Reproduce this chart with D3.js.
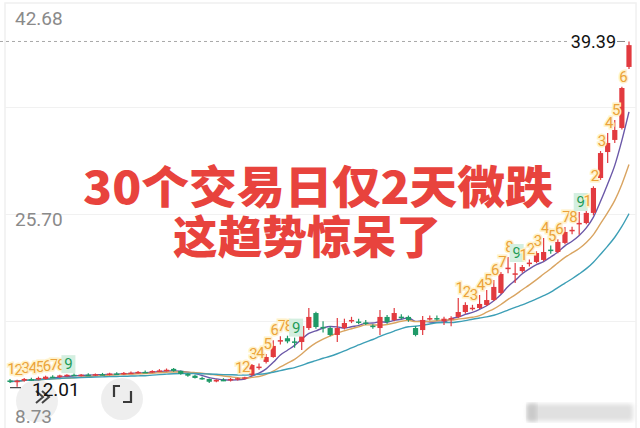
<!DOCTYPE html>
<html><head><meta charset="utf-8">
<script src="https://cdn.jsdelivr.net/npm/d3@7"></script>
<style>html,body{margin:0;padding:0;background:#fff;overflow:hidden}svg{display:block}</style>
</head><body>
<svg id="c" width="640" height="428"></svg>
<script>
// ---- data ----
const opens=[12.50,12.40,12.48,12.60,12.58,12.62,12.80,12.78,12.88,12.95,12.90,12.96,12.92,13.00,12.98,13.05,13.02,13.10,13.12,13.18,13.15,13.25,13.30,13.42,13.26,13.02,12.88,12.70,12.62,12.42,12.55,12.50,12.60,12.66,
12.94,13.55,13.97,14.36,15.65,15.85,15.60,15.55,16.66,17.85,16.75,16.66,16.11,16.66,17.25,17.18,17.10,16.85,16.66,17.54,17.30,17.56,17.54,16.66,16.50,17.40,17.45,17.20,17.35,
17.54,17.93,18.22,18.25,18.49,18.88,19.44,21.40,20.95,21.18,21.80,21.90,22.06,22.88,22.69,23.41,24.40,24.95,24.99,25.79,28.56,30.62,31.58,32.53,37.37];
const highs=[12.62,12.55,12.70,12.72,12.80,12.88,12.92,12.95,13.00,13.05,13.02,13.08,13.05,13.10,13.12,13.15,13.18,13.22,13.25,13.30,13.32,13.40,13.45,13.48,13.30,13.08,12.95,12.80,12.66,12.60,12.68,12.70,12.72,12.80,
13.80,13.85,14.60,15.70,16.00,16.05,15.90,16.95,18.25,17.95,17.20,16.80,17.46,17.40,17.55,17.40,17.30,16.95,18.09,17.70,18.25,17.75,17.65,16.80,17.62,17.65,17.65,17.55,17.60,
19.04,18.70,18.50,19.28,19.68,20.47,21.10,22.29,21.82,21.65,22.10,22.75,23.80,23.20,23.70,24.67,24.70,25.86,25.95,27.90,30.70,32.13,33.16,35.80,39.39];
const lows=[12.30,12.01,12.40,12.50,12.52,12.55,12.70,12.72,12.80,12.85,12.82,12.88,12.85,12.92,12.90,12.98,12.95,13.02,13.05,13.10,13.10,13.18,13.22,13.20,12.95,12.80,12.65,12.55,12.30,12.35,12.45,12.42,12.50,12.58,
12.85,13.35,13.85,14.30,15.35,15.45,15.10,14.92,16.50,16.60,16.30,16.00,15.55,16.55,17.05,16.95,16.90,16.60,16.11,17.00,17.20,17.35,17.15,16.00,16.11,17.25,17.25,16.90,16.80,
17.45,17.80,18.05,18.15,18.40,18.80,19.35,21.00,20.23,21.05,21.55,21.80,21.95,22.55,22.60,23.30,24.10,24.05,24.90,25.60,28.40,29.75,31.34,32.40,37.20];
const closes=[12.42,12.48,12.62,12.58,12.70,12.80,12.78,12.90,12.95,12.90,12.96,12.92,13.00,12.98,13.05,13.02,13.10,13.12,13.18,13.15,13.25,13.30,13.35,13.26,13.02,12.88,12.70,12.62,12.40,12.55,12.50,12.62,12.68,12.75,
13.73,13.60,14.36,15.24,15.70,15.60,15.50,16.82,17.54,16.74,16.70,16.11,16.66,17.06,17.30,17.14,17.06,16.74,17.54,17.14,17.85,17.52,17.30,16.11,17.30,17.45,17.42,17.40,17.45,
17.93,18.49,18.27,18.57,18.88,19.92,20.95,21.45,21.00,21.50,21.85,22.61,22.69,22.82,23.49,24.28,24.45,25.00,25.79,27.77,30.54,31.34,32.37,35.70,39.10];
const tdCounts=[1,2,3,4,5,6,7,8,9,
0,0,0,0,0,0,0,0,0,0,0,0,0,0,0,0,0,0,0,0,0,0,0,
1,2,3,4,5,6,7,8,9,
0,0,0,0,0,0,0,0,0,0,0,0,0,0,0,0,0,0,0,0,0,0,
1,2,3,4,5,6,7,8,9,
1,2,3,4,5,6,7,8,9,
1,2,3,4,5,6,0];
const axisTicks=[42.68,25.70,8.73];
const maxLabel=39.39, minLabel=12.01;
const maPeriods=[5,10,20];
const maColors=["#6b58a8","#d9a461","#3d9fb6"];
const titleLines=["30个交易日仅2天微跌","这趋势惊呆了"];

// ---- drawing ----
const W=640,H=428;
const svg=d3.select("#c");
const n=closes.length;
const x=d3.scalePoint().domain(d3.range(n)).range([10,629]);
const y=d3.scaleLinear().domain([8.73,42.68]).range([H,0]);

const defs=svg.append("defs");
defs.append("filter").attr("id","blur").append("feGaussianBlur").attr("stdDeviation",2);

// frame
svg.append("rect").attr("x",5).attr("y",3).attr("width",631).attr("height",440)
  .attr("fill","none").attr("stroke","#f0f0f0").attr("stroke-width",1.5);

// grid
const q=d3.range(1,4).map(k=>8.73+k*(42.68-8.73)/4);
svg.append("g").selectAll("line").data(q).join("line")
  .attr("x1",5).attr("x2",636).attr("y1",d=>Math.round(y(d))+0.5).attr("y2",d=>Math.round(y(d))+0.5)
  .attr("stroke","#f1f1f1").attr("stroke-width",1.2);

// bottom buttons (behind labels)
svg.append("circle").attr("cx",37).attr("cy",401).attr("r",21).attr("fill","#ececec").attr("opacity",0.85);
svg.append("circle").attr("cx",122).attr("cy",399).attr("r",21).attr("fill","#ececec").attr("opacity",0.9);
svg.append("path").attr("d","M114,397V386H120M131,391V402H123").attr("fill","none").attr("stroke","#3a3a3a").attr("stroke-width",2.2);

// axis labels
const ax=svg.append("g").attr("transform","translate(15,0)")
  .call(d3.axisRight(y).tickValues(axisTicks).tickSize(0).tickFormat(d3.format(".2f")));
ax.select(".domain").remove();
ax.selectAll("text").attr("x",0).attr("text-anchor","start")
  .attr("font-family","Roboto, 'Noto Sans', sans-serif").attr("font-size",19).attr("fill","#8a8a8a")
  .attr("dy",(d,i)=>[ "1.3em","0.62em","-0.3em"][i]);

// max dashed line
svg.append("line").attr("x1",0).attr("x2",568).attr("y1",y(maxLabel)).attr("y2",y(maxLabel))
  .attr("stroke","#a8a8a8").attr("stroke-dasharray","3,3").attr("stroke-width",1);
svg.append("text").attr("x",616).attr("y",y(maxLabel)).attr("dy","0.36em").attr("text-anchor","end")
  .attr("font-family","Roboto, sans-serif").attr("font-size",18).attr("fill","#111").text(maxLabel.toFixed(2));
svg.append("line").attr("x1",617).attr("x2",625).attr("y1",y(maxLabel)).attr("y2",y(maxLabel))
  .attr("stroke","#888").attr("stroke-width",1);

// watermark blur
svg.append("rect").attr("x",527).attr("y",404).attr("width",106).attr("height",17).attr("rx",3)
  .attr("fill","#e0e0e0").attr("filter","url(#blur)");
svg.append("rect").attr("x",527).attr("y",404).attr("width",10).attr("height",17)
  .attr("fill","#cacaca").attr("filter","url(#blur)");

// moving averages
maPeriods.forEach((p,k)=>{
  const ma=closes.map((c,i)=>d3.mean(closes.slice(Math.max(0,i-p+1),i+1)));
  svg.append("path").datum(ma)
    .attr("d",d3.line().x((d,i)=>x(i)).y(d=>y(d)).curve(d3.curveMonotoneX))
    .attr("fill","none").attr("stroke",maColors[k]).attr("stroke-width",1.4);
});

// candles
const data=closes.map((c,i)=>({i,o:opens[i],h:highs[i],l:lows[i],c}));
const cg=svg.append("g").selectAll("g").data(data).join("g");
const col=d=>d.c>=d.o?"#e23a3f":"#1f9a68";
cg.append("line").attr("x1",d=>x(d.i)).attr("x2",d=>x(d.i))
  .attr("y1",d=>y(d.h)).attr("y2",d=>y(d.l)).attr("stroke",col).attr("stroke-width",1.2);
cg.append("rect").attr("x",d=>x(d.i)-2.6).attr("width",5.2)
  .attr("y",d=>y(Math.max(d.o,d.c))).attr("height",d=>Math.max(1.5,Math.abs(y(d.o)-y(d.c))))
  .attr("fill",col);

// TD sequence labels
const tdData=data.filter(d=>tdCounts[d.i]>0);
const tg=svg.append("g").selectAll("g").data(tdData).join("g")
  .attr("transform",d=>`translate(${x(d.i)-2},${y(d.h)-5})`);
tg.filter(d=>tdCounts[d.i]===9).append("rect").attr("x",-3.5).attr("y",-14).attr("width",14).attr("height",18)
  .attr("fill","#d4efe0");
tg.append("text").attr("text-anchor","middle").attr("x",3.5)
  .attr("font-family","Roboto, 'Noto Sans', sans-serif").attr("font-size",15)
  .attr("fill",d=>tdCounts[d.i]===9?"#1e9b57":"#eba33a")
  .attr("stroke",d=>tdCounts[d.i]===9?"none":"#fff1c9").attr("stroke-width",3).attr("paint-order","stroke")
  .text(d=>tdCounts[d.i]);

// min label
svg.append("line").attr("x1",10).attr("x2",21).attr("y1",y(minLabel)+1).attr("y2",y(minLabel)+1)
  .attr("stroke","#444").attr("stroke-width",1.2);
svg.append("path").attr("d","M36,391l7,6l-7,6M42,391l7,6l-7,6").attr("fill","none").attr("stroke","#444").attr("stroke-width",2);
svg.append("text").attr("x",32).attr("y",y(minLabel)+3).attr("dy","0.36em")
  .attr("font-family","Roboto, sans-serif").attr("font-size",19).attr("fill","#111").text(minLabel.toFixed(2));

// title
const tt=svg.append("g").attr("font-family","'Noto Sans CJK SC', sans-serif").attr("font-weight",900)
  .attr("fill","#e8433d");
tt.append("text").attr("x",83).attr("y",184).attr("dominant-baseline","central")
  .attr("font-size",45).attr("textLength",470).attr("lengthAdjust","spacingAndGlyphs").text(titleLines[0]);
tt.append("text").attr("x",173).attr("y",234).attr("dominant-baseline","central")
  .attr("font-size",45).attr("textLength",268).attr("lengthAdjust","spacingAndGlyphs").text(titleLines[1]);
</script>
</body></html>
